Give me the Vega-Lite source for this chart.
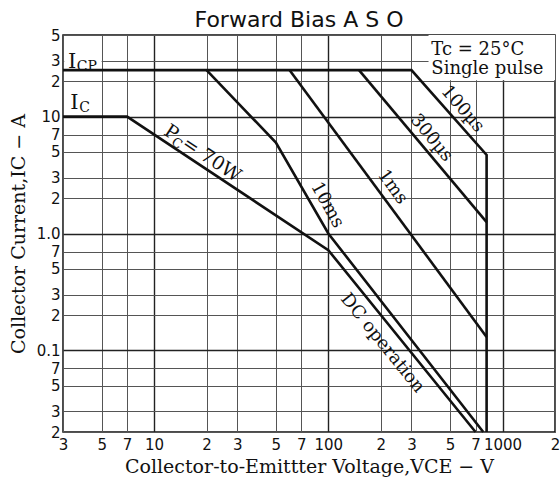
{
  "$schema": "https://vega.github.io/schema/vega-lite/v6.json",
  "width": 492,
  "height": 397,
  "autosize": {"type": "none"},
  "padding": {"left": 63, "top": 35, "right": 5, "bottom": 48},
  "background": "white",
  "config": {
    "view": {"stroke": "#111", "strokeWidth": 1.5},
    "text": {"font": "DejaVu Serif", "fontSize": 18, "color": "#111"}
  },
  "title": {"text": "Forward Bias A S O", "font": "DejaVu Sans", "fontSize": 22, "fontWeight": "normal", "color": "#111", "anchor": "middle", "offset": 1, "dx": -10, "dy": 5},
  "datasets": {
    "limits": [
      {"series": "outline", "ord": 1, "vce": 3, "ic": 25},
      {"series": "outline", "ord": 2, "vce": 300, "ic": 25},
      {"series": "outline", "ord": 3, "vce": 810, "ic": 4.7},
      {"series": "outline", "ord": 4, "vce": 810, "ic": 0.02},
      {"series": "300us", "ord": 1, "vce": 150, "ic": 25},
      {"series": "300us", "ord": 2, "vce": 810, "ic": 1.25},
      {"series": "1ms", "ord": 1, "vce": 60, "ic": 25},
      {"series": "1ms", "ord": 2, "vce": 810, "ic": 0.13},
      {"series": "10ms", "ord": 1, "vce": 20, "ic": 25},
      {"series": "10ms", "ord": 2, "vce": 50, "ic": 6},
      {"series": "10ms", "ord": 3, "vce": 100, "ic": 1.0},
      {"series": "10ms", "ord": 4, "vce": 775, "ic": 0.02},
      {"series": "DC", "ord": 1, "vce": 3, "ic": 10},
      {"series": "DC", "ord": 2, "vce": 7, "ic": 10},
      {"series": "DC", "ord": 3, "vce": 100, "ic": 0.72},
      {"series": "DC", "ord": 4, "vce": 700, "ic": 0.02}
    ]
  },
  "encoding": {
    "x": {
      "field": "vce", "type": "quantitative",
      "scale": {"type": "log", "domain": [3, 2000], "nice": false},
      "axis": {
        "values": [3, 5, 7, 10, 20, 30, 50, 70, 100, 200, 300, 500, 700, 1000, 2000],
        "labelExpr": "datum.value==10||datum.value==100||datum.value==1000 ? format(datum.value,'d') : substring(format(datum.value,'.0e'),0,1)",
        "labelFont": "DejaVu Sans", "labelFontSize": 15, "labelColor": "#111",
        "labelOverlap": false, "labelFlush": false, "labelBound": false,
        "ticks": false, "labelPadding": 5, "domain": false,
        "grid": true,
        "gridColor": {"condition": {"test": "datum.value==10||datum.value==100||datum.value==1000", "value": "#222"}, "value": "#555"},
        "gridWidth": {"condition": {"test": "datum.value==10||datum.value==100||datum.value==1000", "value": 1.4}, "value": 1},
        "title": "Collector-to-Emittter Voltage,VCE − V",
        "titleFont": "DejaVu Serif", "titleFontSize": 19, "titleFontWeight": "normal", "titleColor": "#111", "titlePadding": 5
      }
    },
    "y": {
      "field": "ic", "type": "quantitative",
      "scale": {"type": "log", "domain": [0.02, 50], "nice": false},
      "axis": {
        "values": [0.02, 0.03, 0.05, 0.07, 0.1, 0.2, 0.3, 0.5, 0.7, 1, 2, 3, 5, 7, 10, 20, 30, 50],
        "labelExpr": "datum.value==0.1 ? '0.1' : datum.value==1 ? '1.0' : datum.value==10 ? '10' : substring(format(datum.value,'.0e'),0,1)",
        "labelFont": "DejaVu Sans", "labelFontSize": 15, "labelColor": "#111",
        "labelOverlap": false, "labelFlush": false, "labelBound": false,
        "ticks": false, "labelPadding": 3, "domain": false,
        "grid": true,
        "gridColor": {"condition": {"test": "datum.value==0.1||datum.value==1||datum.value==10", "value": "#222"}, "value": "#555"},
        "gridWidth": {"condition": {"test": "datum.value==0.1||datum.value==1||datum.value==10", "value": 1.3}, "value": 1},
        "title": "Collector Current,IC − A",
        "titleFont": "DejaVu Serif", "titleFontSize": 19, "titleFontWeight": "normal", "titleColor": "#111", "titlePadding": 8
      }
    }
  },
  "layer": [
    {
      "data": {"values": [{"vce": 376, "vce2": 2000, "ic": 20.5, "ic2": 50}, {"vce": 3.05, "vce2": 5.0, "ic": 26, "ic2": 37}]},
      "mark": {"type": "rect", "fill": "white", "stroke": null},
      "encoding": {"x2": {"field": "vce2"}, "y2": {"field": "ic2"}}
    },
    {
      "data": {"name": "limits"},
      "mark": {"type": "line", "color": "#111", "strokeWidth": 2.6, "strokeJoin": "miter"},
      "encoding": {"detail": {"field": "series"}, "order": {"field": "ord", "type": "quantitative"}}
    },
    {
      "data": {"values": [{"vce": 390, "ic": 33.8, "label": "Tc = 25°C"}, {"vce": 390, "ic": 23.1, "label": "Single pulse"}]},
      "mark": {"type": "text", "align": "left", "baseline": "alphabetic"},
      "encoding": {"text": {"field": "label"}}
    },
    {
      "data": {"values": [{"vce": 3.2, "ic": 26, "label": "I"}, {"vce": 3.3, "ic": 11.6, "label": "I"}]},
      "mark": {"type": "text", "align": "left", "baseline": "alphabetic", "fontSize": 21},
      "encoding": {"text": {"field": "label"}}
    },
    {
      "data": {"values": [{"vce": 3.6, "ic": 24.8, "label": "CP"}, {"vce": 3.72, "ic": 11.0, "label": "C"}]},
      "mark": {"type": "text", "align": "left", "baseline": "alphabetic", "fontSize": 14},
      "encoding": {"text": {"field": "label"}}
    },
    {
      "data": {"values": [{"vce": 11.2, "ic": 7.1, "label": "P"}]},
      "mark": {"type": "text", "align": "left", "baseline": "alphabetic", "angle": 33.5, "fontSize": 19},
      "encoding": {"text": {"field": "label"}}
    },
    {
      "data": {"values": [{"vce": 11.2, "ic": 7.1, "label": "C"}]},
      "mark": {"type": "text", "align": "left", "baseline": "alphabetic", "angle": 33.5, "fontSize": 13, "dx": 12, "dy": 4},
      "encoding": {"text": {"field": "label"}}
    },
    {
      "data": {"values": [{"vce": 11.2, "ic": 7.1, "label": "= 70W"}]},
      "mark": {"type": "text", "align": "left", "baseline": "alphabetic", "angle": 33.5, "fontSize": 19, "dx": 22},
      "encoding": {"text": {"field": "label"}}
    },
    {
      "data": {"values": [{"vce": 98.4, "ic": 1.75, "label": "10ms"}]},
      "mark": {"type": "text", "align": "center", "baseline": "middle", "angle": 61},
      "encoding": {"text": {"field": "label"}}
    },
    {
      "data": {"values": [{"vce": 233, "ic": 2.5, "label": "1ms"}]},
      "mark": {"type": "text", "align": "center", "baseline": "middle", "angle": 54},
      "encoding": {"text": {"field": "label"}}
    },
    {
      "data": {"values": [{"vce": 390, "ic": 6.56, "label": "300µs"}]},
      "mark": {"type": "text", "align": "center", "baseline": "middle", "angle": 50},
      "encoding": {"text": {"field": "label"}}
    },
    {
      "data": {"values": [{"vce": 589, "ic": 11.6, "label": "100µs"}]},
      "mark": {"type": "text", "align": "center", "baseline": "middle", "angle": 49},
      "encoding": {"text": {"field": "label"}}
    },
    {
      "data": {"values": [{"vce": 204, "ic": 0.115, "label": "DC operation"}]},
      "mark": {"type": "text", "align": "center", "baseline": "middle", "angle": 51},
      "encoding": {"text": {"field": "label"}}
    }
  ]
}
